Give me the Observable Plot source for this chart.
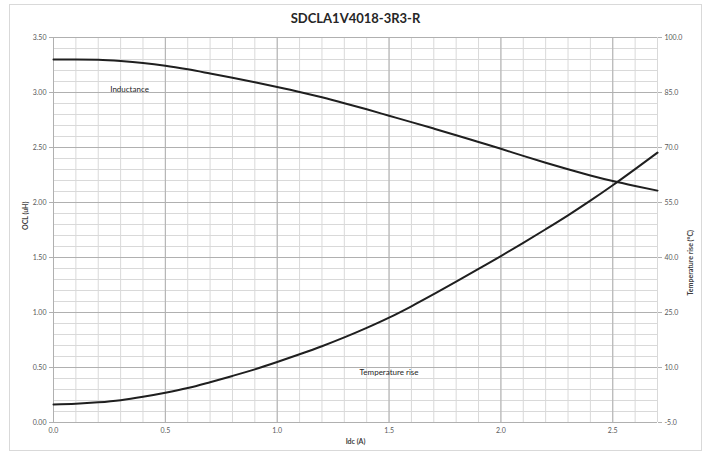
<!DOCTYPE html>
<html>
<head>
<meta charset="utf-8">
<script src="https://cdn.jsdelivr.net/npm/d3@7"></script>
<script src="https://cdn.jsdelivr.net/npm/@observablehq/plot@0.6"></script>
<style>
  html, body { margin: 0; padding: 0; background: #fff; overflow: hidden; }
  #wrap { position: relative; width: 712px; height: 456px; }
  #frame { position: absolute; left: 9px; top: 4px; width: 693px; height: 447px; border: 1px solid #d9d9d9; box-sizing: border-box; pointer-events: none; }
  #chart { position: absolute; left: 0; top: 0; }
</style>
</head>
<body>
<div id="wrap"><div id="frame"></div><div id="chart"></div></div>
<script>
// Title and labels
const title = "SDCLA1V4018-3R3-R";
const xLabel = "Idc (A)";
const yLeftLabel = "OCL (uH)";
const yRightLabel = "Temperature rise (°C)";

// Current (A)
const idc = [0.0, 0.1, 0.2, 0.3, 0.4, 0.5, 0.6, 0.7, 0.8, 0.9, 1.0, 1.1, 1.2, 1.3,
             1.4, 1.5, 1.6, 1.7, 1.8, 1.9, 2.0, 2.1, 2.2, 2.3, 2.4, 2.5, 2.6, 2.7];
// Inductance OCL (uH)
const inductance = [3.30, 3.30, 3.297, 3.286, 3.269, 3.244, 3.211, 3.173, 3.134, 3.093, 3.050, 3.005, 2.956, 2.903,
                    2.847, 2.789, 2.731, 2.672, 2.612, 2.550, 2.488, 2.424, 2.362, 2.302, 2.246, 2.195, 2.150, 2.108];
// Temperature rise (°C)
const tempRise = [-0.1, 0.1, 0.5, 1.1, 2.0, 3.1, 4.4, 6.0, 7.7, 9.5, 11.5, 13.6, 15.8, 18.2,
                  20.8, 23.6, 26.7, 30.0, 33.4, 36.9, 40.4, 44.0, 47.7, 51.5, 55.5, 59.7, 64.1, 68.6];

// Ticks
const xTicks = [0.0, 0.5, 1.0, 1.5, 2.0, 2.5];
const yLeftTicks = [0.00, 0.50, 1.00, 1.50, 2.00, 2.50, 3.00, 3.50];
const yRightTicks = [-5.0, 10.0, 25.0, 40.0, 55.0, 70.0, 85.0, 100.0];

// Annotations
const annoLabels = ["Inductance", "Temperature rise"];
const annoX = [0.34, 1.5];
const annoY = [3.027, 0.455];

// map temperature onto left scale: -5..100 -> 0..3.5
const tMin = -5, tMax = 100, lMax = 3.5;
const t2l = t => (t - tMin) / (tMax - tMin) * lMax;

const indData = idc.map((x, i) => ({x, y: inductance[i]}));
const tmpData = idc.map((x, i) => ({x, t: tempRise[i]}));
const annos = annoLabels.map((s, i) => ({s, x: annoX[i], y: annoY[i]}));

const minorX = d3.range(0, 28).map(i => i / 10);
const minorY = d3.range(0, 36).map(i => i / 10);

const font = "Lato, 'Open Sans', sans-serif";

const chart = Plot.plot({
  width: 712,
  height: 456,
  marginTop: 37,
  marginBottom: 34,
  marginLeft: 53,
  marginRight: 55,
  style: {fontFamily: font, fontSize: "7px", color: "#595959", background: "transparent"},
  x: {domain: [0, 2.7]},
  y: {domain: [0, 3.5]},
  marks: [
    Plot.ruleX(minorX, {stroke: "#d9d9d9", strokeWidth: 1}),
    Plot.ruleY(minorY, {stroke: "#d9d9d9", strokeWidth: 1}),
    Plot.ruleX([2.7], {stroke: "#d9d9d9", strokeWidth: 1}),
    Plot.ruleX(xTicks, {stroke: "#b0b0b0", strokeWidth: 1}),
    Plot.ruleY(yLeftTicks, {stroke: "#b0b0b0", strokeWidth: 1}),
    Plot.axisX({ticks: xTicks, tickFormat: d => d.toFixed(1), tickSize: 0, tickPadding: 6, label: null, fontSize: 7}),
    Plot.axisY({anchor: "left", ticks: yLeftTicks, tickFormat: d => d.toFixed(2), tickSize: 4, tickPadding: 3, label: null, stroke: "#b0b0b0", fontSize: 7}),
    Plot.axisY({anchor: "right", ticks: yRightTicks.map(t2l), tickFormat: d => (d / lMax * (tMax - tMin) + tMin).toFixed(1), tickSize: 4, tickPadding: 3, label: null, stroke: "#b0b0b0", fontSize: 7}),
    Plot.line(indData, {x: "x", y: "y", stroke: "#1f1f1f", strokeWidth: 2, curve: "monotone-x"}),
    Plot.line(tmpData, {x: "x", y: d => t2l(d.t), stroke: "#1f1f1f", strokeWidth: 2, curve: "monotone-x"}),
    Plot.text(annos, {x: "x", y: "y", text: "s", fontSize: 8, fill: "#262626"}),
    Plot.text([title], {frameAnchor: "top", dy: -24, fontSize: 13, fontWeight: "bold", fill: "#262626"}),
    Plot.text([xLabel], {frameAnchor: "bottom", dy: 21, fontSize: 7, fontWeight: "bold", fill: "#404040"}),
    Plot.text([yLeftLabel], {frameAnchor: "left", dx: -28, rotate: -90, fontSize: 7, fontWeight: "bold", fill: "#404040"}),
    Plot.text([yRightLabel], {frameAnchor: "right", dx: 33, rotate: -90, fontSize: 7, fontWeight: "bold", fill: "#404040"})
  ]
});
document.getElementById("chart").appendChild(chart);
</script>
</body>
</html>
